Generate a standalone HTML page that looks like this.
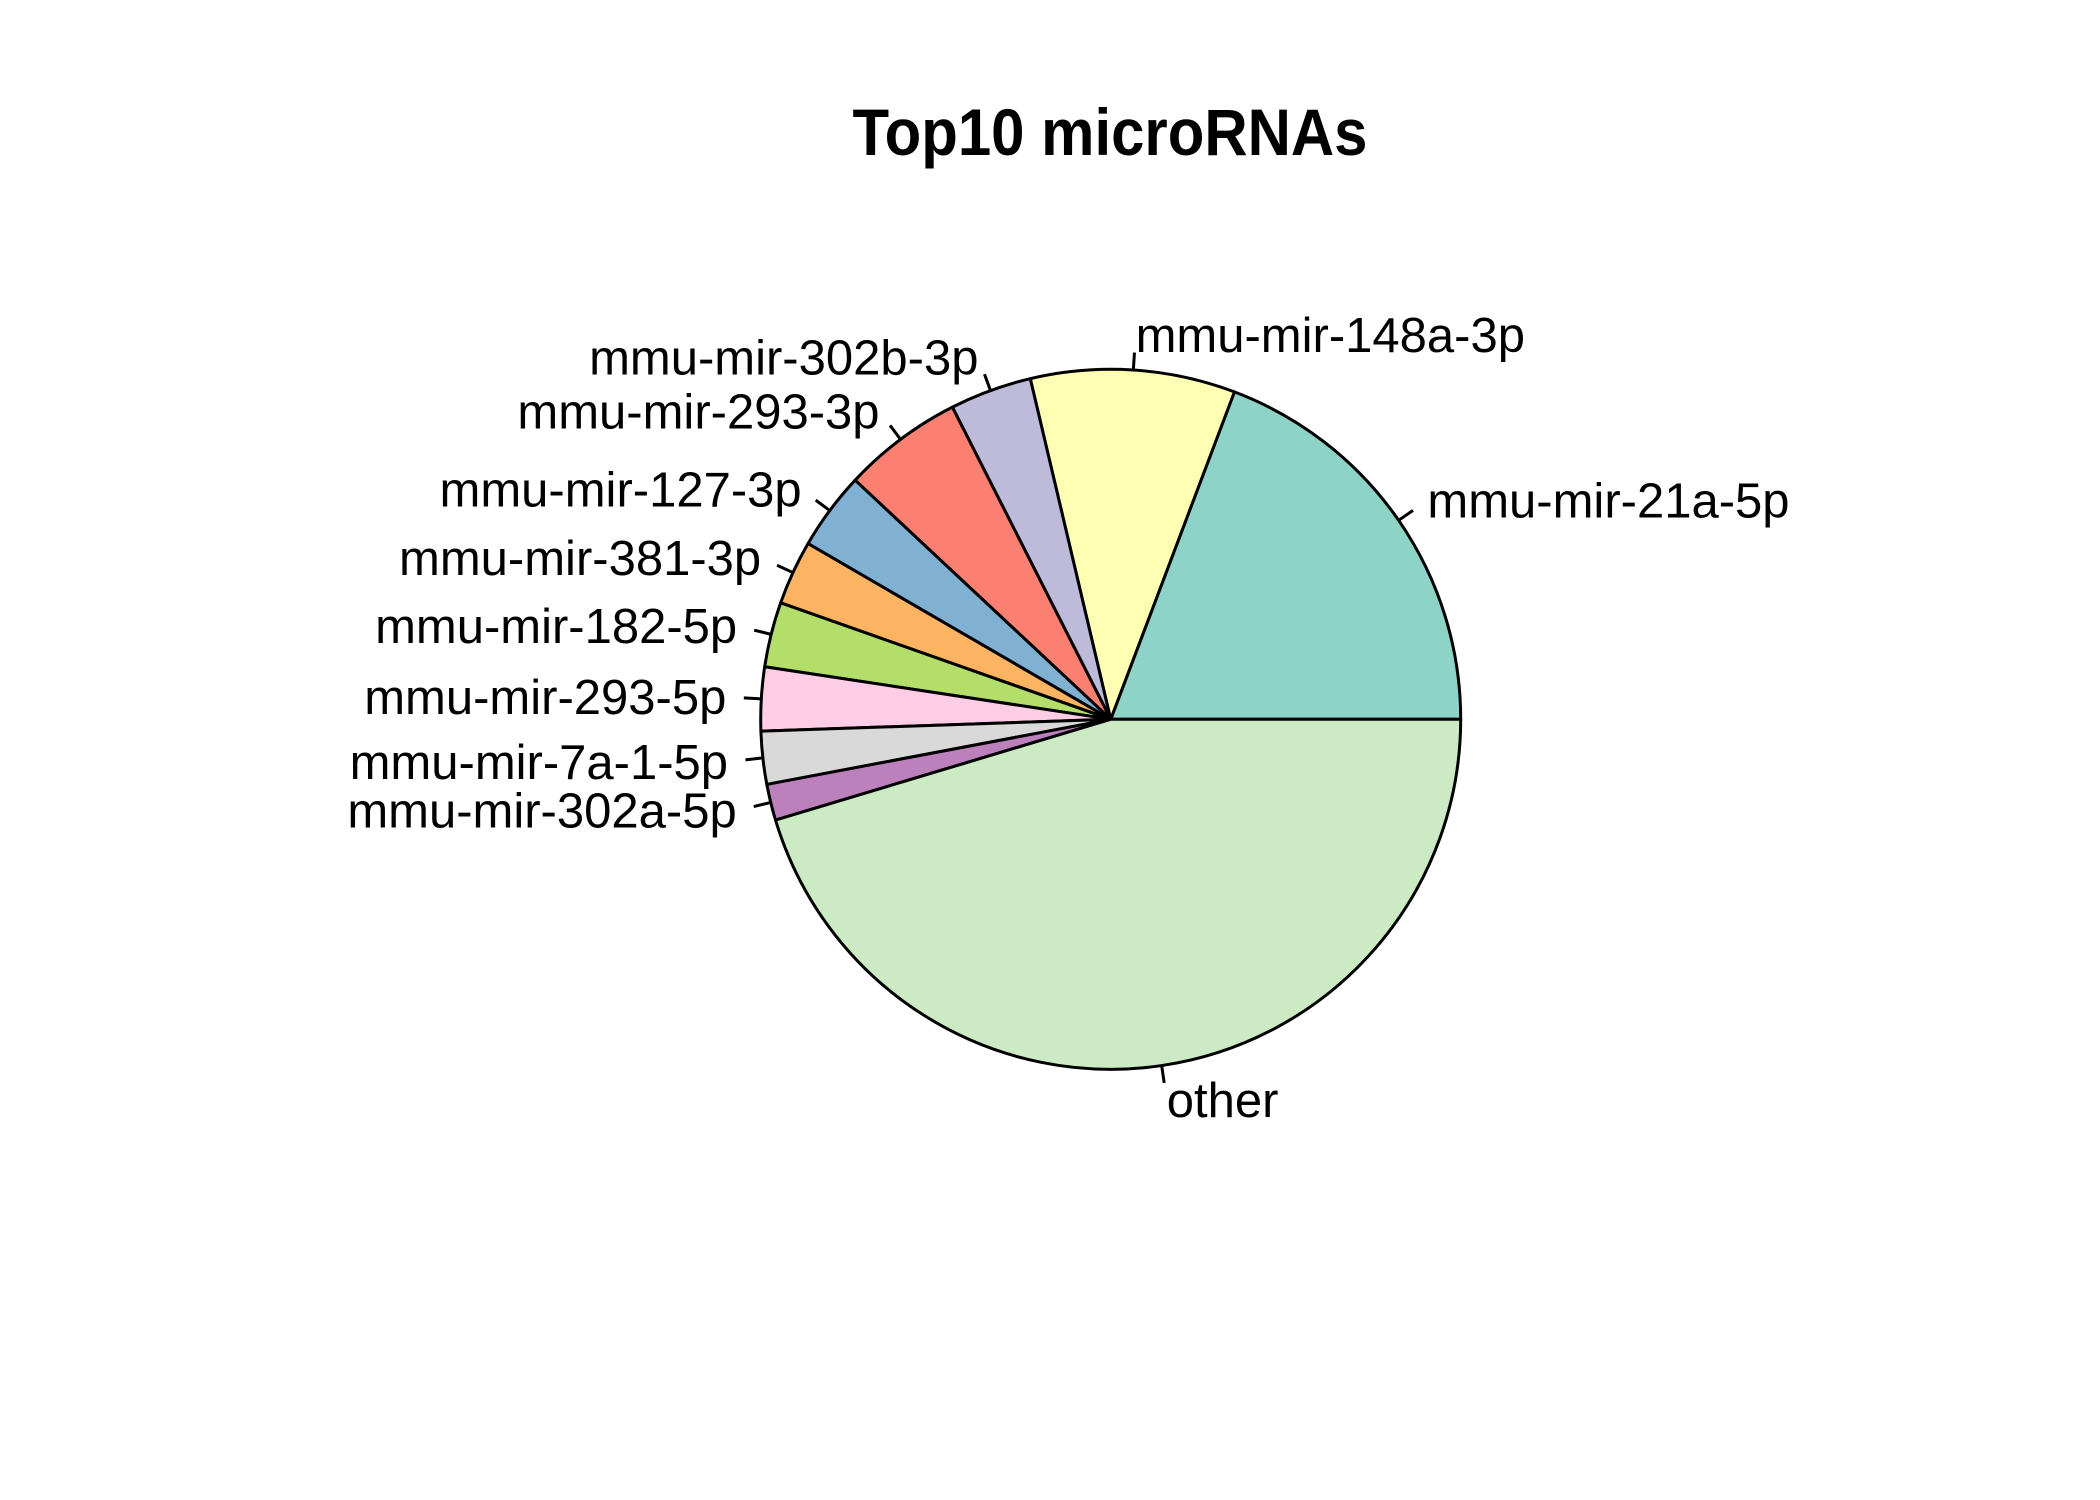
<!DOCTYPE html>
<html><head><meta charset="utf-8"><style>
html,body{margin:0;padding:0;background:#fff}
svg{display:block}
text{font-family:"Liberation Sans",Arial,sans-serif;fill:#000}
</style></head><body>
<svg id="chart" width="2100" height="1500" viewBox="0 0 2100 1500" xmlns="http://www.w3.org/2000/svg">
<rect width="2100" height="1500" fill="#fff"/>
<text x="1110" y="155" text-anchor="middle" font-size="66" font-weight="bold" textLength="515" lengthAdjust="spacingAndGlyphs">Top10 microRNAs</text>
<g id="slices"></g>
<g id="labels"></g>
</svg>
<script>
const categories = ["mmu-mir-21a-5p","mmu-mir-148a-3p","mmu-mir-302b-3p","mmu-mir-293-3p","mmu-mir-127-3p","mmu-mir-381-3p","mmu-mir-182-5p","mmu-mir-293-5p","mmu-mir-7a-1-5p","mmu-mir-302a-5p","other"];
const values = [0.1925,0.0944,0.0378,0.0556,0.0360,0.0297,0.0300,0.0294,0.0244,0.0167,0.4535];
const colors = ["#8DD3C7","#FFFFB3","#BEBADA","#FB8072","#80B1D3","#FDB462","#B3DE69","#FCCDE5","#D9D9D9","#BC80BD","#CCEBC5"];
const cx = 1110.7, cy = 719.3, r = 350;
const ns = "http://www.w3.org/2000/svg";
const total = values.reduce((a,b)=>a+b,0);
const sg = document.getElementById('slices'), lg = document.getElementById('labels');
function pt(a, rr){ return [cx + rr*Math.cos(a), cy - rr*Math.sin(a)]; }
let acc = 0;
values.forEach((v,i)=>{
  const a0 = acc/total*2*Math.PI; acc += v; const a1 = acc/total*2*Math.PI;
  const p0 = pt(a0,r), p1 = pt(a1,r);
  const large = (a1-a0) > Math.PI ? 1 : 0;
  const path = document.createElementNS(ns,'path');
  path.setAttribute('d', `M${cx},${cy} L${p0[0]},${p0[1]} A${r},${r} 0 ${large} 0 ${p1[0]},${p1[1]} Z`);
  path.setAttribute('fill', colors[i]);
  path.setAttribute('stroke', '#000');
  path.setAttribute('stroke-width', '3');
  path.setAttribute('stroke-linejoin', 'round');
  
  
  sg.appendChild(path);
  const am = (a0+a1)/2;
  const t0 = pt(am, r), t1 = pt(am, r*1.05), tl = pt(am, r*1.1);
  const ln = document.createElementNS(ns,'line');
  ln.setAttribute('x1', t0[0]); ln.setAttribute('y1', t0[1]);
  ln.setAttribute('x2', t1[0]); ln.setAttribute('y2', t1[1]);
  ln.setAttribute('stroke', '#000'); ln.setAttribute('stroke-width', '3');
  
  
  lg.appendChild(ln);
  const tx = document.createElementNS(ns,'text');
  tx.setAttribute('x', tl[0]);
  tx.setAttribute('y', tl[1] + 17);
  tx.setAttribute('font-size', '49');
  tx.setAttribute('text-anchor', Math.cos(am) < 0 ? 'end' : 'start');
  tx.textContent = categories[i];
  
  
  lg.appendChild(tx);
});
</script>
</body></html>
